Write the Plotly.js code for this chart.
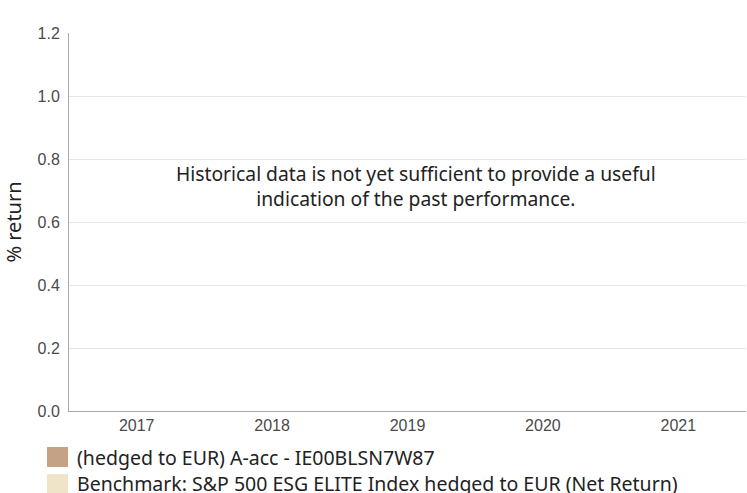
<!DOCTYPE html>
<html>
<head>
<meta charset="utf-8">
<script src="https://cdn.plot.ly/plotly-3.0.1.min.js"></script>
<style>html,body{margin:0;padding:0;background:#fff;}#chart{width:747px;height:493px;}</style>
</head>
<body>
<div id="chart"></div>
<script>
const years = ['2017', '2018', '2019', '2020', '2021'];
const fundName = '(hedged to EUR) A-acc - IE00BLSN7W87';
const benchName = 'Benchmark: S&P 500 ESG ELITE Index hedged to EUR (Net Return)';
const fundValues = [null, null, null, null, null];
const benchValues = [null, null, null, null, null];
const fundColor = '#c4a283';
const benchColor = '#f0e4c8';
const yTicks = [0, 0.2, 0.4, 0.6, 0.8, 1.0, 1.2];
const message = 'Historical data is not yet sufficient to provide a useful<br>indication of the past performance.';

const traces = [
  {type: 'bar', x: years, y: fundValues, name: fundName, marker: {color: fundColor}, showlegend: false},
  {type: 'bar', x: years, y: benchValues, name: benchName, marker: {color: benchColor}, showlegend: false}
];

const textFont = 'Noto Sans, Open Sans, sans-serif';
const tickFont = {family: 'Liberation Sans, Arial, sans-serif', size: 16, color: '#4a4a4a'};
const legendItems = [
  {name: fundName, color: fundColor, y0: -0.0952, y1: -0.148, ty: -0.1217},
  {name: benchName, color: benchColor, y0: -0.167, y1: -0.22, ty: -0.193}
];

const shapes = legendItems.map(it => ({
  type: 'rect', xref: 'paper', yref: 'paper',
  x0: -0.0325, x1: -0.0015, y0: it.y0, y1: it.y1,
  fillcolor: it.color, line: {width: 0}
}));

const annotations = legendItems.map(it => ({
  xref: 'paper', yref: 'paper', x: 0.009, y: it.ty,
  xanchor: 'left', yanchor: 'middle', showarrow: false,
  text: it.name, font: {family: textFont, size: 19.5, color: '#222'}
}));
annotations.push({
  xref: 'paper', yref: 'paper', x: 0.5126, y: 0.594,
  xanchor: 'center', yanchor: 'middle', showarrow: false, align: 'center',
  text: message, font: {family: textFont, size: 19.3, color: '#222'}
});

const layout = {
  width: 747, height: 493,
  margin: {l: 69, r: 1, t: 33, b: 82},
  paper_bgcolor: '#fff', plot_bgcolor: '#fff',
  barmode: 'group',
  showlegend: false,
  xaxis: {
    type: 'category', categoryorder: 'array', categoryarray: years,
    range: [-0.5, 4.5], showgrid: false, zeroline: false,
    showline: true, linecolor: '#aaa', linewidth: 1,
    ticks: '', tickfont: tickFont
  },
  yaxis: {
    range: [0, 1.2], tickvals: yTicks, ticktext: yTicks.map(v => v.toFixed(1)),
    showgrid: true, gridcolor: '#e6e6e6', zeroline: false,
    showline: true, linecolor: '#aaa', linewidth: 1, ticks: '',
    ticklabelstandoff: 5,
    tickfont: tickFont,
    title: {text: '% return', font: {family: textFont, size: 20, color: '#222'}, standoff: 10}
  },
  shapes: shapes,
  annotations: annotations
};

Plotly.newPlot('chart', traces, layout, {displayModeBar: false, staticPlot: true});
</script>
</body>
</html>
